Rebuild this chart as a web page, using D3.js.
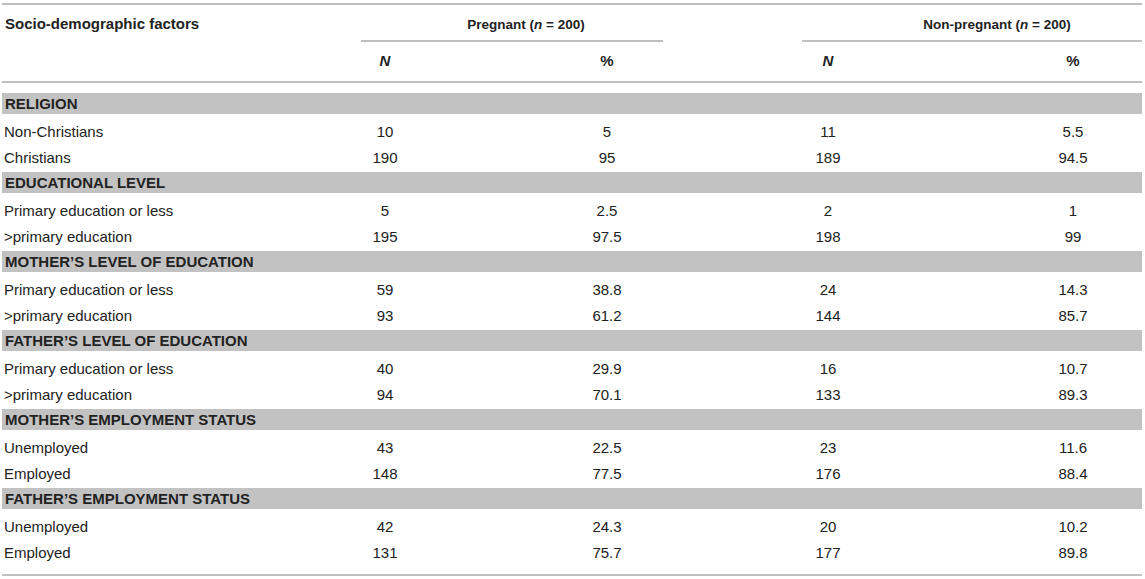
<!DOCTYPE html>
<html>
<head>
<meta charset="utf-8">
<script src="https://cdn.jsdelivr.net/npm/d3@7"></script>
<style>
  body { margin: 0; background: #fff; }
  text { font-family: "Liberation Sans", Arial, Helvetica, sans-serif; fill: #222; }
</style>
</head>
<body>
<div id="table"></div>
<script>
// table content
var groups = ["RELIGION", "EDUCATIONAL LEVEL", "MOTHER’S LEVEL OF EDUCATION",
  "FATHER’S LEVEL OF EDUCATION", "MOTHER’S EMPLOYMENT STATUS", "FATHER’S EMPLOYMENT STATUS"];
var rowLabels = [
  ["Non-Christians", "Christians"],
  ["Primary education or less", ">primary education"],
  ["Primary education or less", ">primary education"],
  ["Primary education or less", ">primary education"],
  ["Unemployed", "Employed"],
  ["Unemployed", "Employed"]
];
var pregnantN      = [10, 190, 5, 195, 59, 93, 40, 94, 43, 148, 42, 131];
var pregnantPct    = [5, 95, 2.5, 97.5, 38.8, 61.2, 29.9, 70.1, 22.5, 77.5, 24.3, 75.7];
var nonPregnantN   = [11, 189, 2, 198, 24, 144, 16, 133, 23, 176, 20, 177];
var nonPregnantPct = [5.5, 94.5, 1, 99, 14.3, 85.7, 10.7, 89.3, 11.6, 88.4, 10.2, 89.8];
var columns = ["pN", "pPct", "nN", "nPct"];
var columnHeads = ["N", "%", "N", "%"];

var width = 1145, height = 579;
var left = 2, right = 1142;

var svg = d3.select("#table")
  .append("svg")
    .attr("width", width)
    .attr("height", height);

// column centres
var x = d3.scaleOrdinal()
  .domain(columns)
  .range([385, 607, 828, 1073]);

// top of each group band
var y = d3.scaleLinear()
  .domain([0, groups.length])
  .range([93, 93 + 79 * groups.length]);
var bandH = 21;

function rule(x1, x2, yy) {
  svg.append("line")
    .attr("x1", x1).attr("x2", x2)
    .attr("y1", yy).attr("y2", yy)
    .attr("stroke", "#ababab")
    .attr("stroke-width", 1.5);
}

// header
rule(left, right, 4);
svg.append("text")
  .attr("x", 5).attr("y", 29)
  .style("font-size", "15px").style("font-weight", "bold")
  .text("Socio-demographic factors");

var spans = [
  {label: "Pregnant", x1: 361, x2: 663, mid: 526},
  {label: "Non-pregnant", x1: 802, x2: right, mid: 997}
];
spans.forEach(function(s) {
  var t = svg.append("text")
    .attr("x", s.mid).attr("y", 29)
    .attr("text-anchor", "middle")
    .style("font-size", "13.5px").style("font-weight", "bold");
  t.append("tspan").text(s.label + " (");
  t.append("tspan").style("font-style", "italic").text("n");
  t.append("tspan").text(" = 200)");
  rule(s.x1, s.x2, 41);
});

svg.selectAll("text.colhead")
  .data(columns)
  .enter()
  .append("text")
    .attr("class", "colhead")
    .attr("x", function(d) { return x(d); })
    .attr("y", 66)
    .attr("text-anchor", "middle")
    .style("font-size", "15px").style("font-weight", "bold")
    .style("font-style", function(d, i) { return columnHeads[i] == "N" ? "italic" : "normal"; })
    .text(function(d, i) { return columnHeads[i]; });

rule(left, right, 82);

// group bands
svg.selectAll("rect.band")
  .data(groups)
  .enter()
  .append("rect")
    .attr("class", "band")
    .attr("x", left)
    .attr("y", function(d, i) { return y(i); })
    .attr("width", right - left)
    .attr("height", bandH)
    .attr("fill", "#c2c2c2");

svg.selectAll("text.group")
  .data(groups)
  .enter()
  .append("text")
    .attr("class", "group")
    .attr("x", 5)
    .attr("y", function(d, i) { return y(i) + 16; })
    .style("font-size", "15px").style("font-weight", "bold")
    .text(function(d) { return d; });

// body rows
var rows = [];
rowLabels.forEach(function(pair, g) {
  pair.forEach(function(label, k) {
    var i = g * 2 + k;
    rows.push({
      label: label,
      top: y(g) + bandH + 23 + 26 * k,
      values: [pregnantN[i], pregnantPct[i], nonPregnantN[i], nonPregnantPct[i]]
    });
  });
});

var row = svg.selectAll("g.row")
  .data(rows)
  .enter()
  .append("g")
    .attr("class", "row")
    .attr("transform", function(d) { return "translate(0," + d.top + ")"; });

row.append("text")
  .attr("x", 4)
  .style("font-size", "15px")
  .text(function(d) { return d.label; });

row.selectAll("text.val")
  .data(function(d) { return d.values; })
  .enter()
  .append("text")
    .attr("class", "val")
    .attr("x", function(d, i) { return x(columns[i]); })
    .attr("text-anchor", "middle")
    .style("font-size", "15px")
    .text(function(d) { return String(d); });

rule(left, right, y(groups.length) + 8);
</script>
</body>
</html>
